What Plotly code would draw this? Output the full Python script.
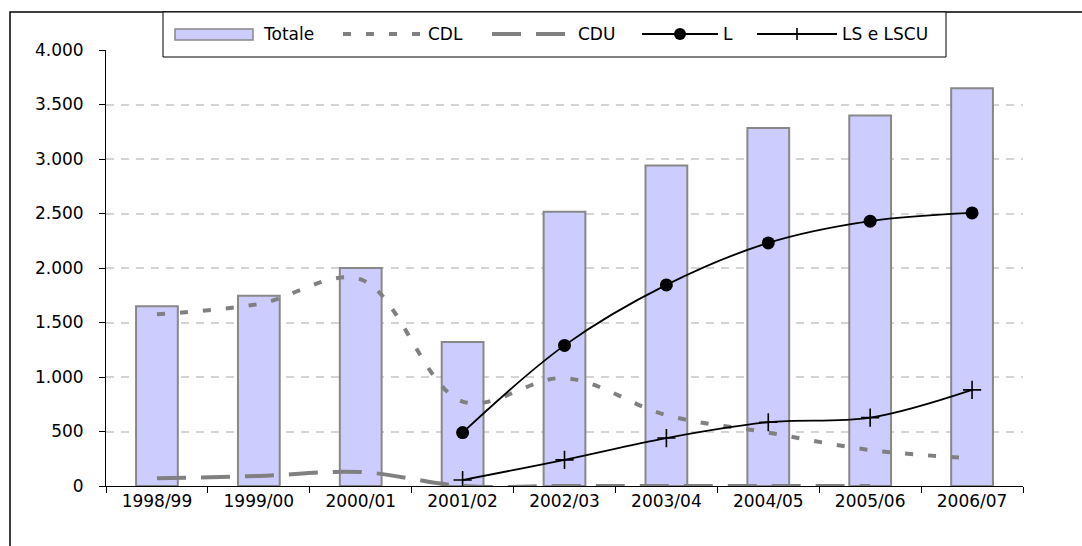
import plotly.graph_objects as go

# Academic years
years = ["1998/99", "1999/00", "2000/01", "2001/02", "2002/03",
         "2003/04", "2004/05", "2005/06", "2006/07"]

# Series values
totale = [1650, 1745, 2000, 1320, 2515, 2940, 3285, 3400, 3650]
cdl = [1575, 1670, 1895, 775, 990, 650, 490, 330, 255]
cdu = [70, 92, 128, 0, 0, 0, 0, 0, None]
l_vals = [None, None, None, 490, 1290, 1845, 2230, 2430, 2505]
ls_vals = [None, None, None, 55, 240, 440, 585, 627, 882]

y_ticks = [0, 500, 1000, 1500, 2000, 2500, 3000, 3500, 4000]

W, H = 1082, 546
ML, MR, MT, MB = 106, 59, 50, 60
PW, PH = W - ML - MR, H - MT - MB

FONT = "DejaVu Sans"
FS = 17
GRAY = "#808080"


def px(x):
    return (x - ML) / PW


def py(y):
    return (H - MB - y) / PH


fig = go.Figure()

fig.add_trace(go.Bar(
    x=years, y=totale, name="Totale", width=0.41,
    marker=dict(color="#ccccff", line=dict(color="#888888", width=2)),
    showlegend=False,
))
fig.add_trace(go.Scatter(
    x=years, y=cdl, name="CDL", mode="lines", line_shape="spline",
    line=dict(color=GRAY, width=4, dash="8px,15px"), showlegend=False,
))
fig.add_trace(go.Scatter(
    x=years, y=cdu, name="CDU", mode="lines", line_shape="spline",
    line=dict(color=GRAY, width=4, dash="29px,15px"), showlegend=False,
))
fig.add_trace(go.Scatter(
    x=years, y=l_vals, name="L", mode="lines+markers", line_shape="spline",
    line=dict(color="black", width=1.8),
    marker=dict(symbol="circle", size=13, color="black"), showlegend=False,
))
fig.add_trace(go.Scatter(
    x=years, y=ls_vals, name="LS e LSCU", mode="lines+markers", line_shape="spline",
    line=dict(color="black", width=1.8),
    marker=dict(symbol="cross-thin", size=13, line=dict(color="black", width=1.6)),
    showlegend=False,
))

shapes = []
annotations = []

# Outer chart frame (runs past the right and bottom edges of the page)
shapes.append(dict(type="rect", xref="paper", yref="paper",
                   x0=px(10), x1=px(1400), y0=py(800), y1=py(12),
                   line=dict(color="black", width=1.5), layer="below"))

# Legend box
LY = 34
shapes.append(dict(type="rect", xref="paper", yref="paper",
                   x0=px(163), x1=px(946), y0=py(57), y1=py(12),
                   fillcolor="white", line=dict(color="black", width=1), layer="above"))

# Totale swatch
shapes.append(dict(type="rect", xref="paper", yref="paper",
                   x0=px(175), x1=px(253), y0=py(40), y1=py(29),
                   fillcolor="#ccccff", line=dict(color="#888888", width=1.5), layer="above"))
# CDL sample
shapes.append(dict(type="line", xref="paper", yref="paper",
                   x0=px(343), x1=px(425), y0=py(LY), y1=py(LY),
                   line=dict(color=GRAY, width=4, dash="8px,15px"), layer="above"))
# CDU sample
shapes.append(dict(type="line", xref="paper", yref="paper",
                   x0=px(492), x1=px(571), y0=py(LY), y1=py(LY),
                   line=dict(color=GRAY, width=4, dash="29px,15px"), layer="above"))
# L sample
shapes.append(dict(type="line", xref="paper", yref="paper",
                   x0=px(642), x1=px(718), y0=py(LY), y1=py(LY),
                   line=dict(color="black", width=1.8), layer="above"))
shapes.append(dict(type="circle", xref="paper", yref="paper",
                   x0=px(674), x1=px(686), y0=py(LY + 6), y1=py(LY - 6),
                   fillcolor="black", line=dict(color="black", width=0), layer="above"))
# LS e LSCU sample
shapes.append(dict(type="line", xref="paper", yref="paper",
                   x0=px(757), x1=px(837), y0=py(LY), y1=py(LY),
                   line=dict(color="black", width=1.8), layer="above"))
shapes.append(dict(type="line", xref="paper", yref="paper",
                   x0=px(797), x1=px(797), y0=py(LY + 6), y1=py(LY - 6),
                   line=dict(color="black", width=1.6), layer="above"))

for x, txt in [(261, "Totale"), (426, "CDL"), (576, "CDU"), (721, "L"), (840, "LS e LSCU")]:
    annotations.append(dict(x=px(x), y=py(LY), xref="paper", yref="paper",
                            text=txt, showarrow=False, xanchor="left", yanchor="middle",
                            font=dict(family=FONT, size=FS, color="black")))

fig.update_layout(
    width=W, height=H,
    margin=dict(l=ML, r=MR, t=MT, b=MB),
    paper_bgcolor="white", plot_bgcolor="white",
    separators=",.",
    font=dict(family=FONT, size=FS, color="black"),
    shapes=shapes, annotations=annotations,
    showlegend=False,
)
fig.update_xaxes(
    type="category", showgrid=False, showline=True, linecolor="black", linewidth=1,
    ticks="outside", tickson="boundaries", ticklen=6, tickcolor="black",
    tickfont=dict(family=FONT, size=FS), range=[-0.5, 8.5],
)
fig.update_yaxes(
    range=[0, 4000], tickvals=y_ticks, tickformat=",d",
    showline=True, linecolor="black", linewidth=1,
    ticks="outside", ticklen=6, tickcolor="black",
    ticklabelstandoff=12,
    showgrid=True, gridcolor="#d4d4d4", gridwidth=1.5, griddash="8px,7px",
    zeroline=False, tickfont=dict(family=FONT, size=FS),
)

fig.write_html("out.html")
